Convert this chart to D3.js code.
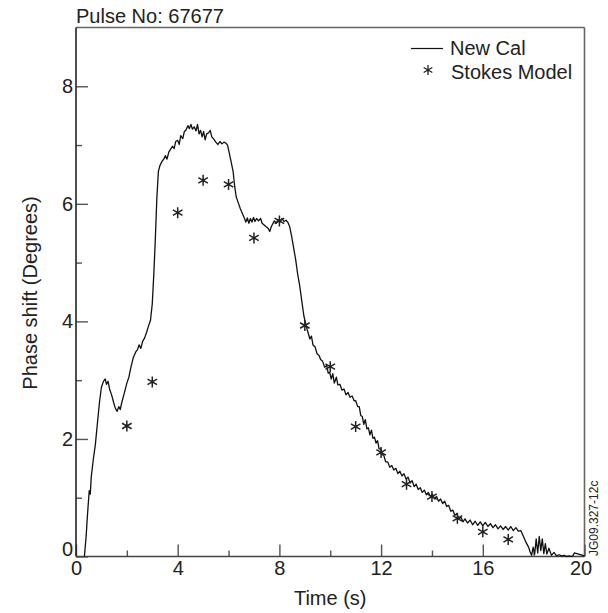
<!DOCTYPE html>
<html>
<head>
    <meta charset="utf-8" />
    <title>Pulse 67677 phase shift</title>
    <script src="https://d3js.org/d3.v7.min.js"></script>
    <style>
        body { margin: 0; background: #fff; }
        text { font-family: "Liberation Sans", Arial, Helvetica, sans-serif; fill: #222; }
    </style>
</head>
<body>
    <svg class="chart"></svg>
    <script>
        // New Cal trace, [time (s), phase shift (deg)]
        var newCalTime = [0.33,0.40,0.45,0.50,0.52,0.56,0.60,0.68,0.76,0.85,0.93,1.00,1.08,1.15,1.20,1.26,1.32,1.40,1.48,1.55,1.62,1.68,1.74,1.80,1.90,2.00,2.08,2.15,2.25,2.35,2.42,2.48,2.55,2.62,2.70,2.78,2.85,2.93,3.00,3.06,3.12,3.18,3.24,3.30,3.38,3.45,3.52,3.58,3.65,3.72,3.80,3.86,3.92,4.00,4.06,4.12,4.20,4.26,4.32,4.40,4.46,4.52,4.58,4.65,4.72,4.78,4.84,4.90,4.96,5.02,5.08,5.14,5.22,5.28,5.34,5.42,5.50,5.58,5.66,5.74,5.82,5.90,5.96,6.02,6.10,6.18,6.24,6.30,6.38,6.46,6.54,6.62,6.68,6.74,6.80,6.86,6.92,6.98,7.04,7.10,7.18,7.26,7.32,7.40,7.48,7.56,7.62,7.68,7.74,7.80,7.88,7.94,8.02,8.10,8.18,8.26,8.34,8.40,8.48,8.56,8.64,8.72,8.80,8.88,8.96,9.04,9.12,9.20,9.26,9.32,9.40,9.48,9.56,9.62,9.70,9.78,9.86,9.92,9.98,10.04,10.10,10.16,10.24,10.30,10.38,10.46,10.54,10.62,10.70,10.78,10.86,10.94,11.00,11.08,11.14,11.20,11.26,11.32,11.38,11.44,11.50,11.56,11.62,11.68,11.74,11.80,11.86,11.92,11.98,12.04,12.10,12.18,12.26,12.34,12.42,12.50,12.58,12.66,12.74,12.82,12.90,12.98,13.06,13.14,13.22,13.30,13.38,13.46,13.54,13.62,13.70,13.78,13.86,13.94,14.02,14.10,14.18,14.26,14.34,14.42,14.50,14.58,14.66,14.74,14.82,14.90,14.98,15.06,15.14,15.22,15.30,15.40,15.50,15.60,15.70,15.80,15.90,16.00,16.10,16.20,16.30,16.40,16.50,16.60,16.70,16.80,16.90,17.00,17.10,17.20,17.30,17.40,17.50,17.60,17.70,17.80,17.86,17.92,17.98,18.04,18.10,18.16,18.22,18.28,18.34,18.40,18.46,18.52,18.60,18.70,18.80,18.90,19.00,19.10,19.20,19.30,19.40,19.48,19.54,19.60,20.00];
        var newCalPhase = [0.00,0.35,0.70,1.00,1.12,1.06,1.35,1.65,1.90,2.30,2.65,2.88,2.98,3.02,2.93,2.98,2.85,2.75,2.62,2.52,2.47,2.55,2.50,2.62,2.78,2.95,3.05,3.20,3.38,3.48,3.52,3.60,3.54,3.66,3.72,3.82,3.92,4.02,4.30,4.80,5.40,6.10,6.55,6.65,6.72,6.76,6.82,6.76,6.88,6.93,6.98,6.94,7.06,7.08,7.01,7.16,7.11,7.23,7.25,7.33,7.28,7.35,7.27,7.31,7.24,7.35,7.19,7.25,7.14,7.23,7.09,7.19,7.21,7.25,7.14,7.10,7.05,7.01,7.06,7.02,7.05,7.03,7.00,6.88,6.72,6.55,6.30,6.12,6.02,5.92,5.84,5.76,5.69,5.76,5.67,5.75,5.69,5.77,5.70,5.75,5.71,5.75,5.67,5.64,5.61,5.58,5.53,5.61,5.66,5.71,5.67,5.73,5.69,5.75,5.70,5.72,5.68,5.62,5.45,5.25,5.05,4.80,4.60,4.35,4.10,3.94,3.82,3.70,3.75,3.60,3.57,3.45,3.42,3.35,3.32,3.22,3.25,3.12,3.13,3.02,3.11,2.95,3.05,2.92,2.93,2.83,2.85,2.75,2.79,2.71,2.73,2.65,2.65,2.55,2.55,2.40,2.38,2.25,2.33,2.17,2.19,2.07,2.15,2.01,2.03,1.93,1.97,1.83,1.83,1.73,1.73,1.61,1.61,1.52,1.55,1.47,1.50,1.41,1.45,1.37,1.41,1.32,1.35,1.25,1.29,1.19,1.23,1.14,1.17,1.09,1.13,1.05,1.09,1.02,1.06,0.98,1.02,0.94,0.98,0.90,0.94,0.85,0.87,0.77,0.79,0.70,0.73,0.64,0.67,0.59,0.64,0.57,0.62,0.54,0.60,0.53,0.59,0.52,0.58,0.51,0.56,0.49,0.54,0.47,0.52,0.46,0.51,0.45,0.51,0.44,0.49,0.43,0.44,0.34,0.24,0.16,0.08,0.02,0.16,0.04,0.30,0.06,0.34,0.10,0.30,0.05,0.22,0.04,0.14,0.02,0.07,0.01,0.03,0.01,0.02,0.00,0.01,0.00,0.01,0.06,0.01,0.00,0.00];

        // Stokes model points
        var stokesTime = [2, 3, 4, 5, 6, 7, 8, 9, 10, 11, 12, 13, 14, 15, 16, 17];
        var stokesPhase = [2.22, 2.97, 5.85, 6.40, 6.33, 5.42, 5.71, 3.93, 3.23, 2.21, 1.77, 1.23, 1.02, 0.65, 0.42, 0.29];

        var xMajorTicks = [0, 4, 8, 12, 16, 20];
        var xMinorTicks = [2, 6, 10, 14, 18];
        var yMajorTicks = [0, 2, 4, 6, 8];
        var yMinorTicks = [1, 3, 5, 7];

        var svgWidth = 608, svgHeight = 613;
        var plotLeft = 76, plotRight = 584.5, plotTop = 27.5, plotBottom = 556.5;

        var svg = d3.select(".chart")
                    .attr("width", svgWidth)
                    .attr("height", svgHeight);

        var xScale = d3.scaleLinear().domain([0, 20]).range([plotLeft, plotRight]);
        var yScale = d3.scaleLinear().domain([0, 9]).range([plotBottom, plotTop]);

        // frame (top and right are lighter)
        svg.append("line").attr("x1", plotLeft).attr("x2", plotRight).attr("y1", plotTop).attr("y2", plotTop)
            .attr("stroke", "#666").attr("stroke-width", 1.6);
        svg.append("line").attr("x1", plotRight).attr("x2", plotRight).attr("y1", plotTop).attr("y2", plotBottom)
            .attr("stroke", "#666").attr("stroke-width", 1.6);

        var xAxis = d3.axisBottom(xScale).tickValues(xMajorTicks).tickSize(-12).tickPadding(4).tickFormat(d3.format("d"));
        var xMinor = d3.axisBottom(xScale).tickValues(xMinorTicks).tickSize(-6).tickFormat("");
        var yAxis = d3.axisLeft(yScale).tickValues(yMajorTicks).tickSize(-12).tickPadding(4).tickFormat(d3.format("d"));
        var yMinor = d3.axisLeft(yScale).tickValues(yMinorTicks).tickSize(-6).tickFormat("");

        function styleAxis(g) {
            g.select(".domain").remove();
            g.selectAll(".tick line").attr("stroke", "#555").attr("stroke-width", 1.4);
            g.selectAll(".tick text").attr("font-size", 20).attr("font-family", null).attr("fill", "#222");
        }

        var xg = svg.append("g").attr("transform", "translate(0," + plotBottom + ")").call(xAxis).call(styleAxis);
        svg.append("g").attr("transform", "translate(0," + plotBottom + ")").call(xMinor).call(styleAxis);
        var yg = svg.append("g").attr("transform", "translate(" + plotLeft + ",0)").call(yAxis).call(styleAxis);
        svg.append("g").attr("transform", "translate(" + plotLeft + ",0)").call(yMinor).call(styleAxis);
        yg.selectAll(".tick text").attr("x", -3);
        // lift the y "0" so it clears the x "0"
        yg.selectAll(".tick text").filter(d => d === 0).attr("dy", "-0.05em");
        xg.selectAll(".tick text").filter(d => d === 20).attr("x", -4);

        // axis lines
        svg.append("line").attr("x1", plotLeft).attr("x2", plotRight).attr("y1", plotBottom).attr("y2", plotBottom)
            .attr("stroke", "#444").attr("stroke-width", 1.6);
        svg.append("line").attr("x1", plotLeft).attr("x2", plotLeft).attr("y1", plotTop).attr("y2", plotBottom)
            .attr("stroke", "#222").attr("stroke-width", 1.6);

        // New Cal line
        var lineData = newCalTime.map((t, i) => [t, newCalPhase[i]]);
        var line = d3.line().x(d => xScale(d[0])).y(d => yScale(d[1]));
        svg.append("path")
            .datum(lineData)
            .attr("d", line)
            .attr("fill", "none")
            .attr("stroke", "#111")
            .attr("stroke-width", 1.3)
            .attr("stroke-linejoin", "round");

        // asterisk marker
        function star(r) {
            var a = Math.PI / 6, dx = r * Math.cos(a), dy = r * Math.sin(a);
            return "M0," + (-r) + "V" + r +
                   "M" + (-dx) + "," + (-dy) + "L" + dx + "," + dy +
                   "M" + (-dx) + "," + dy + "L" + dx + "," + (-dy);
        }

        svg.selectAll(".stokes")
            .data(stokesTime).enter().append("path")
                .attr("class", "stokes")
                .attr("transform", (d, i) => "translate(" + xScale(d) + "," + yScale(stokesPhase[i]) + ")")
                .attr("d", star(5.5))
                .attr("stroke", "#222")
                .attr("stroke-width", 1.5)
                .attr("fill", "none");

        // legend
        svg.append("line").attr("x1", 411).attr("x2", 443).attr("y1", 48.5).attr("y2", 48.5)
            .attr("stroke", "#111").attr("stroke-width", 1.2);
        svg.append("text").attr("x", 450).attr("y", 55).attr("font-size", 20).text("New Cal");
        svg.append("path").attr("transform", "translate(428,70)").attr("d", star(5))
            .attr("stroke", "#222").attr("stroke-width", 1.3).attr("fill", "none");
        svg.append("text").attr("x", 451).attr("y", 78.5).attr("font-size", 20).text("Stokes Model");

        // titles
        svg.append("text").attr("x", 76).attr("y", 22.5).attr("font-size", 20).text("Pulse No: 67677");
        svg.append("text").attr("x", (plotLeft + plotRight) / 2).attr("y", 605).attr("font-size", 20)
            .attr("text-anchor", "middle").text("Time (s)");
        svg.append("text").attr("transform", "translate(37," + ((plotTop + plotBottom) / 2 + 1) + ") rotate(-90)")
            .attr("font-size", 20).attr("text-anchor", "middle").text("Phase shift (Degrees)");
        svg.append("text").attr("transform", "translate(598,556) rotate(-90)")
            .attr("font-size", 12).text("JG09.327-12c");
    </script>
</body>
</html>
